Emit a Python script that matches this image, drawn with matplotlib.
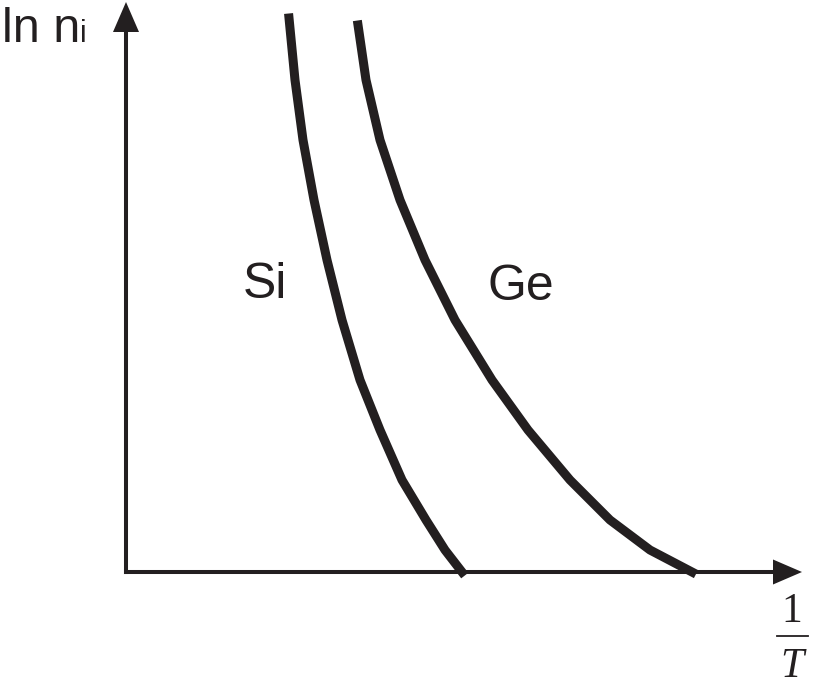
import matplotlib.pyplot as plt

# values (x = 1/T, y = ln ni, arbitrary units)
si_inv_t = [163, 169, 177, 188, 201, 216, 234, 254, 276, 300, 319, 336]
si_ln_ni = [554, 492, 432, 372, 312, 252, 192, 142, 92, 52, 22, 0]

ge_inv_t = [232, 240, 254, 274, 299, 329, 366, 402, 444, 484, 524, 566]
ge_ln_ni = [547, 492, 432, 372, 312, 252, 192, 142, 92, 52, 22, 0]

ink = '#231f20'

fig = plt.figure(figsize=(8.16, 6.88), dpi=100)
ax = fig.add_axes([0, 0, 1, 1])
ax.set_xlim(-126, 690)
ax.set_ylim(-116, 572)
ax.axis('off')

# axes with arrow heads
ax.plot([0, 0], [0, 545], color=ink, lw=2.9, solid_capstyle='projecting')
ax.fill([-13, 0, 13], [540, 570, 540], color=ink, lw=0)
ax.plot([0, 650], [0, 0], color=ink, lw=2.9, solid_capstyle='projecting')
ax.fill([647, 676, 647], [12.5, 0, -12.5], color=ink, lw=0)

# curves
ax.plot(si_inv_t, si_ln_ni, color=ink, lw=6.5, solid_joinstyle='round')
ax.plot(ge_inv_t, ge_ln_ni, color=ink, lw=6.5, solid_joinstyle='round')

sans = 'Liberation Sans'
ax.text(-124, 530, 'ln n', fontsize=35, family=sans, color=ink, va='baseline')
ax.text(-46, 530, 'i', fontsize=22, family=sans, color=ink, va='baseline')
ax.text(117, 274, 'Si', fontsize=36, family=sans, color=ink, va='baseline')
ax.text(362, 272, 'Ge', fontsize=36, family=sans, color=ink, va='baseline')

serif = 'Liberation Serif'
ax.text(666, -50, '1', fontsize=30, family=serif, color=ink, ha='center', va='baseline')
ax.plot([651, 682], [-64, -64], color=ink, lw=1.3)
ax.text(666, -105, 'T', fontsize=30, family=serif, style='italic', color=ink,
        ha='center', va='baseline')

fig.savefig('out.png', dpi=100)
